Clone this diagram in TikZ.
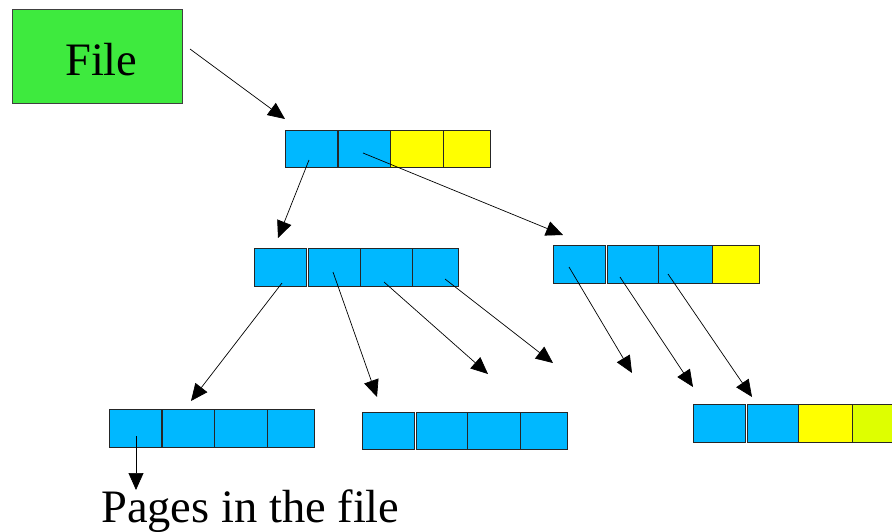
\documentclass[tikz,border=0pt]{standalone}
\usepackage{fontspec}
\setmainfont[Ligatures=NoCommon]{Liberation Serif}
\usetikzlibrary{arrows.meta}
\definecolor{cblue}{RGB}{0,184,255}
\definecolor{cyel}{RGB}{255,255,0}
\definecolor{clime}{RGB}{222,255,0}
\definecolor{fgreen}{RGB}{62,234,62}
\begin{document}
\begin{tikzpicture}[x=1pt,y=-1pt,
  cell/.style={draw=black!85, line width=0.8pt, inner sep=0pt, anchor=north west, minimum height=37pt, fill=cblue},
  ycell/.style={cell, fill=cyel},
  link/.style={-{Triangle[length=17pt,width=15pt]}, line width=0.7pt},
  big/.style={font=\fontsize{46.5}{52}\selectfont, inner sep=0pt}]
\useasboundingbox (0,0) rectangle (892,531);
\clip (0,0) rectangle (892,531);
% File box
\node[draw=black!75, line width=0.8pt, fill=fgreen, minimum width=170pt, minimum height=94pt, anchor=north west, inner sep=0pt] (file) at (12,9) {};
\node[big, anchor=base west] (filelabel) at (65,75) {File};
% root
\node[cell, minimum width=52pt] (r1) at (285,130) {};
\node[cell, minimum width=52pt] (r2) at (338,130) {};
\node[ycell, minimum width=53pt] (r3) at (390,130) {};
\node[ycell, minimum width=47pt] (r4) at (443,130) {};
% middle left
\node[cell, minimum width=52pt, minimum height=38pt] (m1) at (254,248) {};
\node[cell, minimum width=52pt, minimum height=38pt] (m2) at (308,248) {};
\node[cell, minimum width=52pt, minimum height=38pt] (m3) at (360,248) {};
\node[cell, minimum width=46pt, minimum height=38pt] (m4) at (412,248) {};
% middle right
\node[cell, minimum width=52pt, minimum height=38pt] (n1) at (553,245) {};
\node[cell, minimum width=51pt, minimum height=38pt] (n2) at (607,245) {};
\node[cell, minimum width=53.5pt, minimum height=38pt] (n3) at (658,245) {};
\node[ycell, minimum width=47pt, minimum height=38pt] (n4) at (711.5,245) {};
% bottom left
\node[cell, minimum width=52pt, minimum height=38pt] (b1) at (109,409) {};
\node[cell, minimum width=52pt, minimum height=38pt] (b2) at (162,409) {};
\node[cell, minimum width=52.5pt, minimum height=38pt] (b3) at (214,409) {};
\node[cell, minimum width=47pt, minimum height=38pt] (b4) at (266.5,409) {};
% bottom middle
\node[cell, minimum width=52pt] (c1) at (362,412) {};
\node[cell, minimum width=51pt] (c2) at (416,412) {};
\node[cell, minimum width=53pt] (c3) at (467,412) {};
\node[cell, minimum width=47pt] (c4) at (520,412) {};
% bottom right
\node[cell, minimum width=52pt, minimum height=38pt] (d1) at (693,404) {};
\node[cell, minimum width=51pt, minimum height=38pt] (d2) at (747,404) {};
\node[ycell, minimum width=53.5pt, minimum height=38pt] (d3) at (798,404) {};
\node[cell, fill=clime, minimum width=50pt, minimum height=38pt] (d4) at (851.5,404) {};
% label
\node[big, anchor=base west] (pages) at (101,522) {Pages in the file};
% arrow end points
\coordinate (s0) at (190,49);  \coordinate (t0) at (285,119);
\coordinate (s1) at (309,160); \coordinate (t1) at (278,238);
\coordinate (s2) at (363,153); \coordinate (t2) at (563,235);
\coordinate (s3) at (282,283); \coordinate (t3) at (191,401);
\coordinate (s4) at (333,272); \coordinate (t4) at (377,397);
\coordinate (s5) at (384,282); \coordinate (t5) at (488,374);
\coordinate (s6) at (445,279); \coordinate (t6) at (553,363);
\coordinate (s7) at (569,267); \coordinate (t7) at (632,373);
\coordinate (s8) at (620,277); \coordinate (t8) at (693,387);
\coordinate (s9) at (668,274); \coordinate (t9) at (752,397);
\coordinate (s10) at (136,436); \coordinate (t10) at (136,490);
\foreach \i in {0,...,10} {\draw[link] (s\i) -- (t\i);}
\end{tikzpicture}
\end{document}
